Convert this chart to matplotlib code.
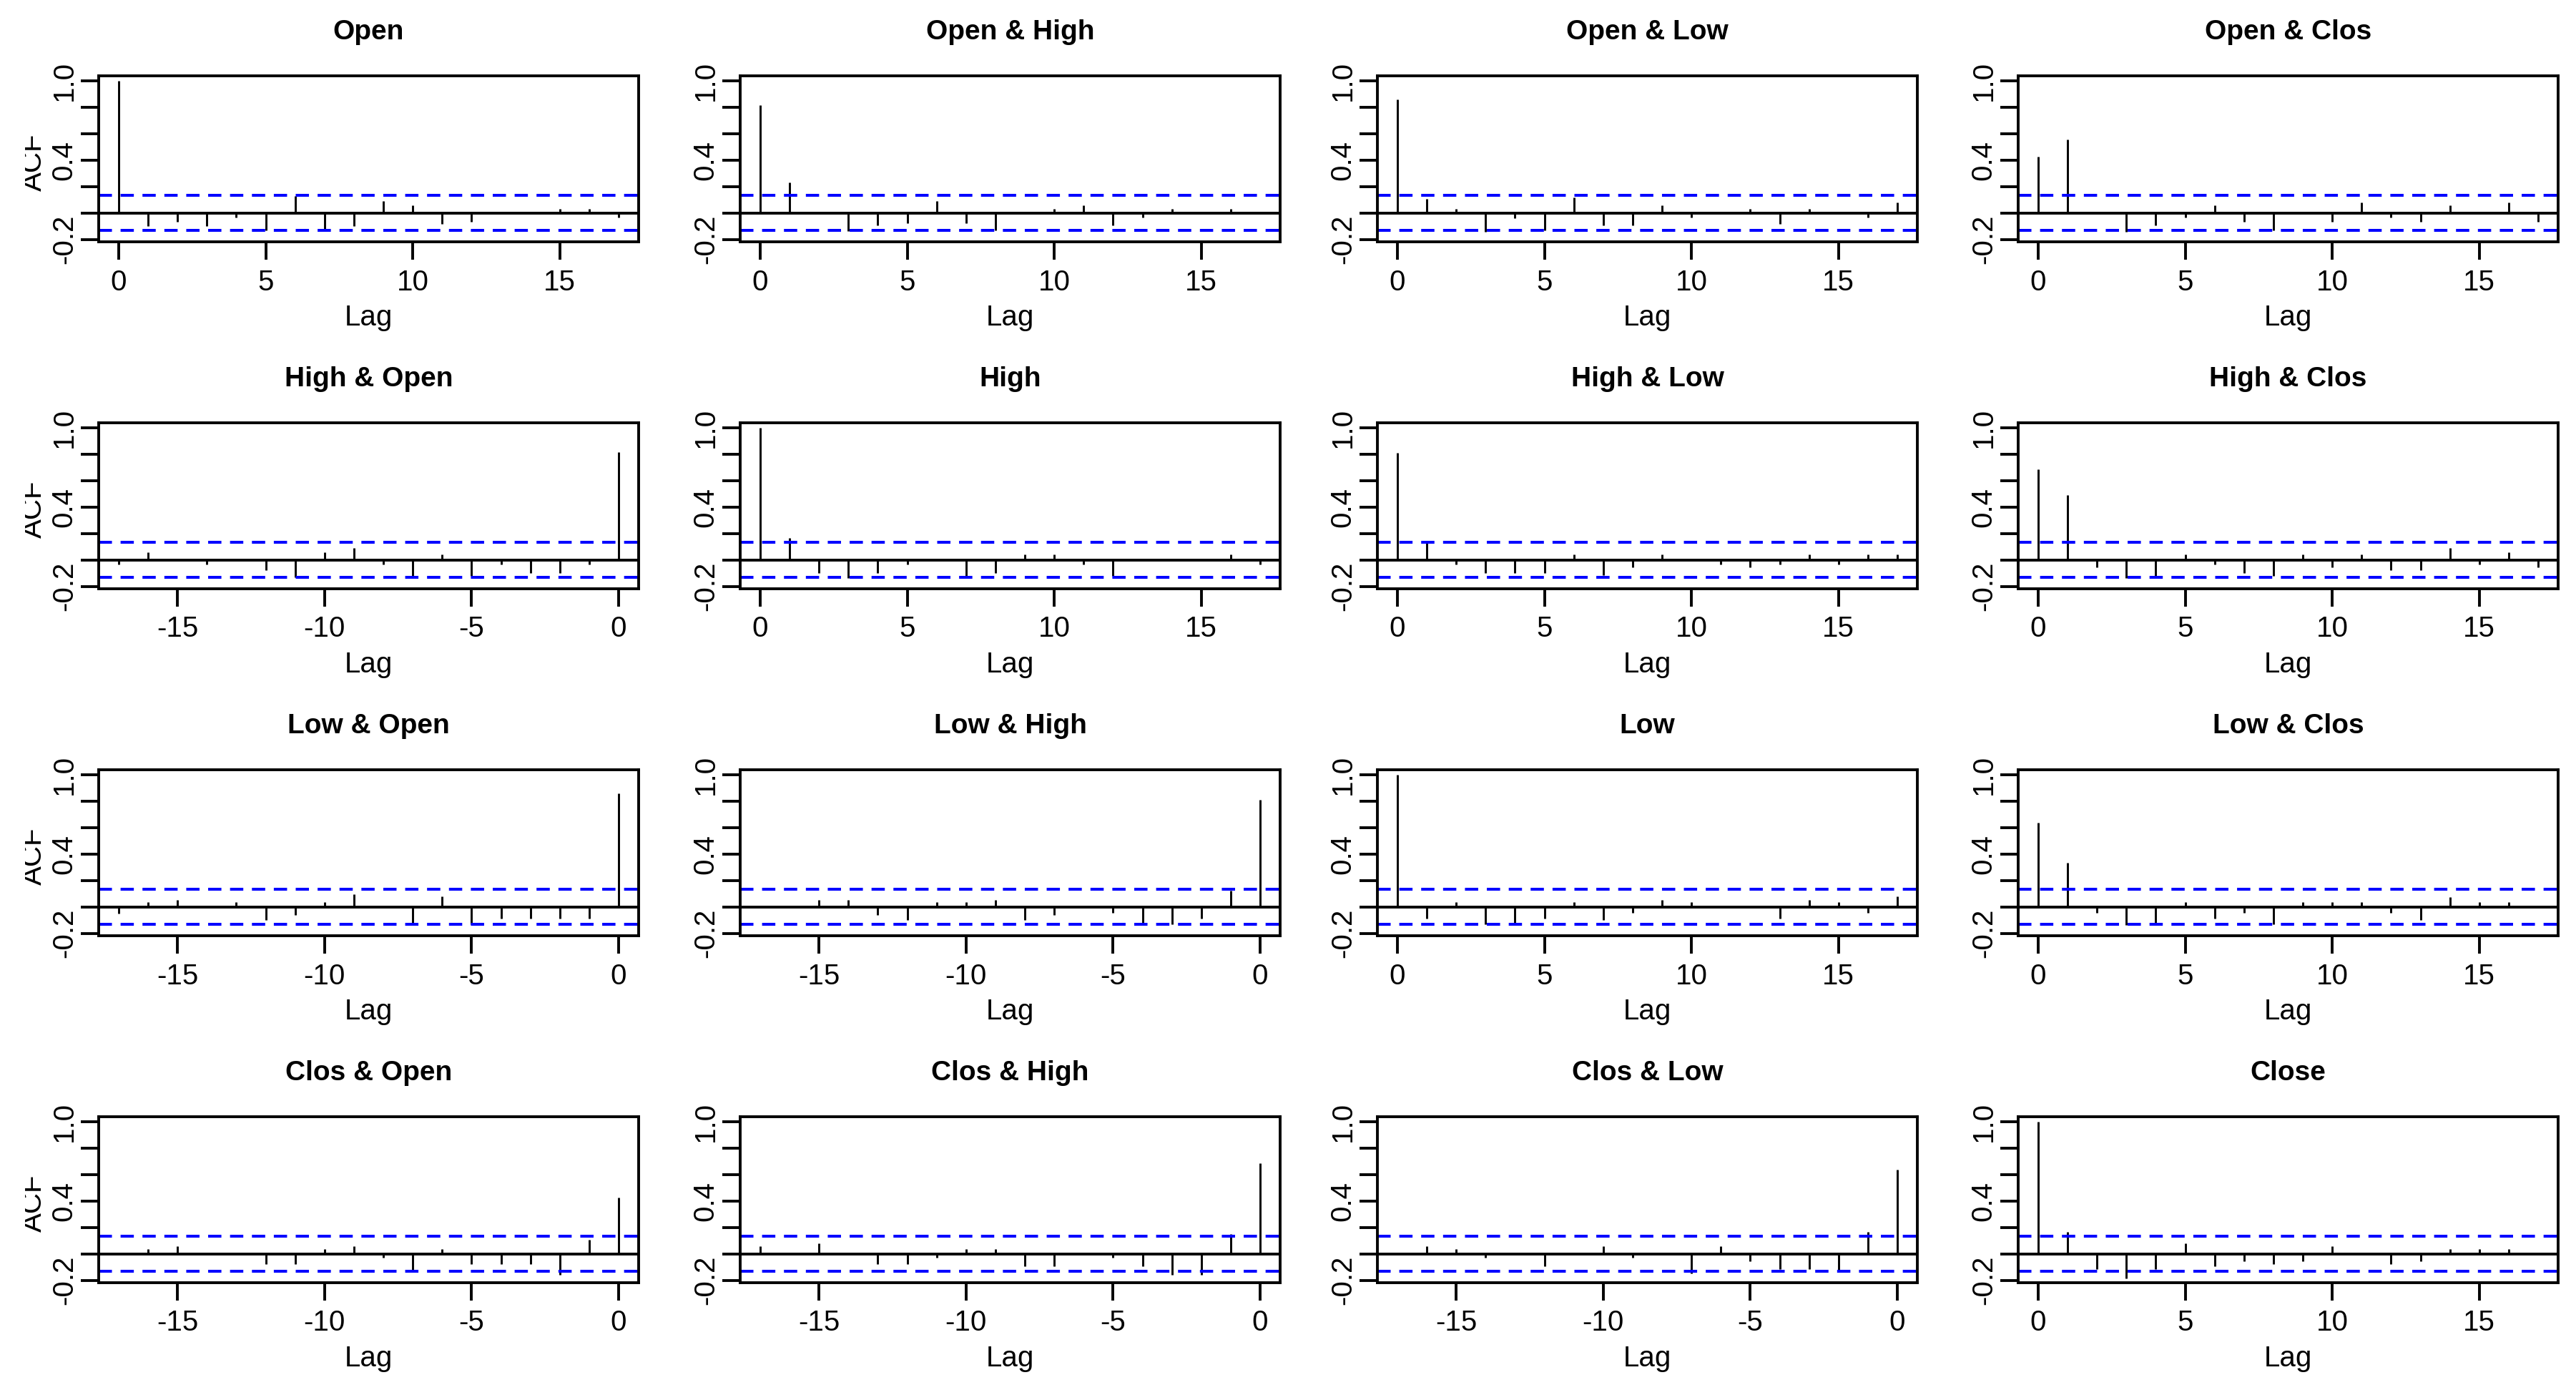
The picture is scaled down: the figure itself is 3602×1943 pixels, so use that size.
import matplotlib
matplotlib.use("Agg")
import matplotlib.pyplot as plt
from matplotlib.transforms import offset_copy, Bbox

plt.rcParams['font.family'] = ['Liberation Sans', 'DejaVu Sans']

# ACF / CCF values, lag 0 first
# upper panels and diagonal: lags 0..17, lower panels: lags 0..-17
open_acf = [1.0, -0.10, -0.065, -0.10, -0.035, -0.13, 0.128, -0.123, -0.10, 0.092,
            0.057, -0.083, -0.065, 0.005, 0.005, 0.03, 0.03, -0.035]
open_high = [0.816, 0.229, 0.005, -0.138, -0.095, -0.077, 0.092, -0.077, -0.132, 0.005,
             0.03, 0.057, -0.095, -0.035, 0.03, 0.005, 0.03, 0.005]
open_low = [0.86, 0.106, 0.03, -0.14, -0.04, -0.13, 0.12, -0.095, -0.095, 0.06,
            -0.035, 0.005, 0.03, -0.085, 0.03, 0.005, -0.035, 0.08]
open_clos = [0.425, 0.556, 0.005, -0.14, -0.095, -0.035, 0.06, -0.065, -0.13, 0.005,
             -0.065, 0.08, -0.035, -0.065, 0.06, 0.005, 0.08, -0.065]

high_open = [0.816, -0.036, -0.097, -0.097, -0.036, -0.12, 0.041, -0.138, -0.036, 0.09,
             0.059, -0.13, -0.076, 0.005, -0.036, 0.005, 0.059, -0.036]
high_acf = [1.0, 0.167, -0.097, -0.138, -0.097, -0.036, 0.005, -0.138, -0.097, 0.041,
            0.041, -0.036, -0.12, 0.005, 0.005, 0.005, 0.041, -0.036]
high_low = [0.81, 0.14, -0.036, -0.097, -0.097, -0.097, 0.041, -0.115, -0.054, 0.041,
            0.005, -0.036, -0.054, -0.036, 0.041, -0.036, 0.041, 0.041]
high_clos = [0.688, 0.491, -0.054, -0.138, -0.12, 0.041, -0.036, -0.097, -0.12, 0.041,
             -0.054, 0.041, -0.076, -0.076, 0.09, -0.036, 0.059, -0.054]

low_open = [0.86, -0.088, -0.088, -0.088, -0.088, -0.129, 0.08, -0.138, 0.005, 0.098,
            0.036, -0.063, -0.10, 0.036, 0.005, 0.054, 0.036, -0.048]
low_high = [0.81, 0.121, -0.088, -0.129, -0.138, -0.045, 0.005, -0.063, -0.10, 0.054,
            0.036, 0.036, -0.10, -0.063, 0.054, 0.054, 0.005, 0.005]
low_acf = [1.0, -0.088, 0.036, -0.129, -0.138, -0.088, 0.036, -0.10, -0.045, 0.054,
           0.036, 0.005, 0.005, -0.088, 0.054, 0.036, -0.045, 0.08]
low_clos = [0.635, 0.336, -0.045, -0.138, -0.129, 0.036, -0.088, -0.045, -0.129, 0.036,
            0.036, 0.036, -0.045, -0.10, 0.077, 0.036, 0.036, 0.005]

clos_open = [0.425, 0.108, -0.16, -0.076, -0.076, -0.076, 0.036, -0.139, -0.027, 0.059,
             0.036, -0.076, -0.076, 0.005, 0.005, 0.059, 0.036, 0.005]
clos_high = [0.688, 0.15, -0.16, -0.16, -0.094, -0.027, 0.005, -0.094, -0.094, 0.036,
             0.036, -0.027, -0.076, -0.076, 0.005, 0.081, 0.005, 0.059]
clos_low = [0.635, 0.168, -0.13, -0.117, -0.117, -0.058, 0.059, -0.148, 0.005, -0.027,
            0.059, 0.005, -0.094, 0.005, -0.027, 0.036, 0.059, 0.005]
close_acf = [1.0, 0.168, -0.117, -0.184, -0.117, 0.081, -0.094, -0.058, -0.076, -0.058,
             0.059, 0.005, -0.076, -0.058, 0.036, 0.036, 0.036, 0.005]

titles = [["Open", "Open & High", "Open & Low", "Open & Clos"],
          ["High & Open", "High", "High & Low", "High & Clos"],
          ["Low & Open", "Low & High", "Low", "Low & Clos"],
          ["Clos & Open", "Clos & High", "Clos & Low", "Close"]]
values = [[open_acf, open_high, open_low, open_clos],
          [high_open, high_acf, high_low, high_clos],
          [low_open, low_high, low_acf, low_clos],
          [clos_open, clos_high, clos_low, close_acf]]
conf = 0.132

W, H = 3602, 1943
fig = plt.figure(figsize=(W / 100, H / 100), dpi=100)

box_left = [138, 1035, 1926, 2822]
box_top = [106, 591, 1076, 1561]
bw, bh = 755, 232
lw_box = 2.8

for r in range(4):
    for c in range(4):
        l, t = box_left[c], box_top[r]
        ax = fig.add_axes([l / W, (H - t - bh) / H, bw / W, bh / H])
        vals = values[r][c]
        n = len(vals)
        if c >= r:
            lags = list(range(n))
            ax.set_xlim(-0.68, n - 1 + 0.68)
            ax.set_xticks([0, 5, 10, 15])
            ax.set_xticklabels(["0", "5", "10", "15"])
        else:
            lags = [-k for k in range(n)]
            ax.set_xlim(-(n - 1) - 0.68, 0.68)
            ax.set_xticks([-15, -10, -5, 0])
            ax.set_xticklabels(["-15", "-10", "-5", "0"])
        ax.set_ylim(-0.218, 1.038)
        ax.set_yticks([-0.2, 0.0, 0.2, 0.4, 0.6, 0.8, 1.0])
        ax.set_yticklabels(["-0.2", "", "", "0.4", "", "", "1.0"],
                           rotation=90, va="center")

        ax.vlines(lags, 0, vals, color="black", lw=2.1)
        ax.axhline(0, color="black", lw=2.8)
        for s in (conf, -conf):
            ax.axhline(s, color="blue", lw=2.9, dashes=(4.6, 3.0))

        for sp in ax.spines.values():
            sp.set_linewidth(lw_box)
        ax.tick_params(axis="both", length=18, width=lw_box, labelsize=29)
        ax.tick_params(axis="x", pad=9)
        ax.tick_params(axis="y", pad=3)

        ax.text(0.5, 1.0, titles[r][c], ha="center", va="baseline",
                fontsize=28, fontweight="bold",
                transform=offset_copy(ax.transAxes, fig=fig, y=51, units="dots"))
        ax.text(0.5, 0.0, "Lag", ha="center", va="baseline", fontsize=29,
                transform=offset_copy(ax.transAxes, fig=fig, y=-117, units="dots"))

        if c == 0:
            lab = fig.text(66 / W, (H - (t + bh / 2 + 5)) / H, "ACF", rotation=90,
                           ha="right", va="center", fontsize=29)
            lab.set_clip_box(Bbox.from_extents(35, 0, W, H))
            lab.set_clip_on(True)

fig.savefig("out.png", dpi=100, facecolor="white")
